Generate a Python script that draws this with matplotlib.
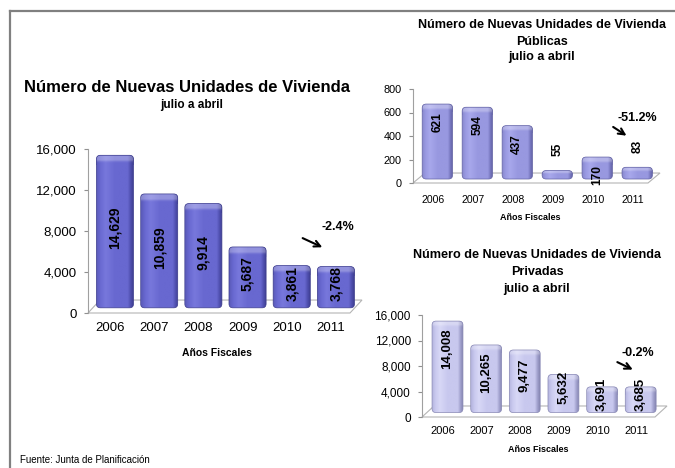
import numpy as np
import matplotlib
matplotlib.use("Agg")
import matplotlib.pyplot as plt
from matplotlib.patches import FancyBboxPatch, Polygon
from matplotlib.colors import LinearSegmentedColormap
from matplotlib.lines import Line2D

plt.rcParams["font.family"] = ["Liberation Sans", "DejaVu Sans"]

# data
years = ["2006", "2007", "2008", "2009", "2010", "2011"]
total = [14629, 10859, 9914, 5687, 3861, 3768]
publicas = [621, 594, 437, 55, 170, 83]
privadas = [14008, 10265, 9477, 5632, 3691, 3685]
cambio_total = "-2.4%"
cambio_publicas = "-51.2%"
cambio_privadas = "-0.2%"

W, H = 675, 468
fig = plt.figure(figsize=(W / 100, H / 100), dpi=100)

# bar colour sets: (left, highlight, base, dark, edge)
MAIN_COLS = ["#5a5ab8", "#7878dc", "#6868d0", "#4c4caa", "#3c3c8c"]
PUB_COLS = ["#8888cc", "#a8a8ec", "#9898e0", "#7474bc", "#6262a4"]
PRIV_COLS = ["#b4b4de", "#d8d8f6", "#c8c8ee", "#a0a0cc", "#8888b4"]


def px_rect(x0, y_top, x1, y_bot):
    return [x0 / W, 1 - y_bot / H, (x1 - x0) / W, (y_bot - y_top) / H]


def draw_panel(ax, values, ymax, step, xlim, depth, bw, shift, cols,
               tick_fs, year_fs, year_pad, label_fs, label_pos):
    ax.set_xlim(*xlim)
    ax.set_ylim(0, ymax)
    pos = ax.get_position()
    x_per_px = (xlim[1] - xlim[0]) / (pos.width * W)
    y_per_px = ymax / (pos.height * H)
    asp = y_per_px / x_per_px
    dz = depth * ymax

    # floor
    s = 12 * x_per_px
    floor = Polygon([(xlim[0], 0), (xlim[0] + s, dz), (xlim[1], dz), (xlim[1] - s, 0)],
                    closed=True, fc="white", ec="#b4b4b4", lw=0.8, zorder=1, clip_on=False)
    ax.add_patch(floor)

    body_cmap = LinearSegmentedColormap.from_list(
        "body", [(0, cols[0]), (0.1, cols[2]), (0.25, cols[1]), (0.5, cols[2]),
                 (0.84, cols[2]), (0.93, cols[3]), (1, cols[4])])
    body = body_cmap(np.linspace(0, 1, 64))[:, :3]
    # top face: body colours lightened towards the top
    t = np.linspace(0, 1, 24)
    fade = (np.clip((t - 0.15) / 0.35, 0, 1) ** 2 * 0.28)[:, None, None]
    cap_rgb = body[None, :, :] * (1 - fade) + fade

    for i, v in enumerate(values):
        x0 = i + shift - bw / 2
        y0 = 0.4 * dz
        y1 = v + 0.6 * dz
        h = y1 - y0
        r = min(4 * x_per_px, 0.49 * h / asp)
        outline = FancyBboxPatch((x0, y0), bw, h, boxstyle=f"round,pad=0,rounding_size={r}",
                                 mutation_aspect=asp, fc="none", ec=cols[4], lw=0.5, zorder=5)
        ax.add_patch(outline)
        img = ax.imshow(body[None, :, :], aspect="auto",
                        extent=(x0, x0 + bw, y0, y1), interpolation="bilinear", zorder=3)
        img.set_clip_path(outline)
        cap_h = min(0.75 * dz, 0.5 * h)
        cap = ax.imshow(cap_rgb, aspect="auto", origin="lower",
                        extent=(x0, x0 + bw, y1 - cap_h, y1),
                        interpolation="bilinear", zorder=4)
        cap.set_clip_path(outline)

        ly, va = label_pos(v, ymax)
        ax.text(i + shift, ly, f"{v:,}", rotation=90, ha="center", va=va,
                fontsize=label_fs, fontweight="bold", zorder=6)

    ax.set_xlim(*xlim)
    ax.set_ylim(0, ymax)
    ticks = np.arange(0, ymax + 1, step)
    ax.set_yticks(ticks)
    ax.set_yticklabels([f"{int(t):,}" for t in ticks])
    ax.set_xticks(np.arange(len(values)))
    ax.set_xticklabels(years)
    for sp in ["top", "right", "bottom"]:
        ax.spines[sp].set_visible(False)
    ax.spines["left"].set_color("#a0a0a0")
    ax.spines["left"].set_linewidth(0.8)
    ax.tick_params(axis="y", length=3, color="#909090", labelsize=tick_fs, pad=5)
    ax.tick_params(axis="x", length=0, labelsize=year_fs, pad=year_pad)
    ax.patch.set_alpha(0)


def arrow(ax, start, end, text, tpos, fs):
    ax.annotate("", xy=end, xytext=start,
                arrowprops=dict(arrowstyle="->", color="black", lw=1.5, mutation_scale=11),
                annotation_clip=False)
    ax.text(tpos[0], tpos[1], text, ha="center", va="center", fontsize=fs, fontweight="bold")


# ---- main panel ----
ax1 = fig.add_axes(px_rect(88, 149, 362, 313))
draw_panel(ax1, total, 16000, 4000, (-0.5, 5.70), 0.079, 0.84, 0.11, MAIN_COLS,
           9.5, 9.5, 6.5, 10, lambda v, m: (v / 2 + 0.06 * m, "center"))
arrow(ax1, (4.3, 7420), (4.86, 6300), cambio_total, (5.16, 8394), 9)

# ---- públicas ----
ax2 = fig.add_axes(px_rect(413, 89, 660, 183))
draw_panel(ax2, publicas, 800, 200, (-0.5, 5.68), 0.106, 0.76, 0.11, PUB_COLS,
           7.8, 7.6, 8.5, 8.6,
           lambda v, m: (v + 0.22 * m, "bottom") if v < 0.15 * m else (v - 0.025 * m, "top"))
arrow(ax2, (4.45, 490), (4.9, 390), cambio_publicas, (5.12, 553), 9)

# ---- privadas ----
ax3 = fig.add_axes(px_rect(422, 315, 667, 417))
draw_panel(ax3, privadas, 16000, 4000, (-0.54, 5.80), 0.108, 0.8, 0.12, PRIV_COLS,
           8.5, 8.0, 6.5, 9.5,
           lambda v, m: (max(v - 0.21 * m, v / 2 + 0.11 * m), "center"))
arrow(ax3, (4.45, 8800), (4.98, 7250), cambio_privadas, (5.05, 10040), 9)

# ---- titles and labels ----
def ftext(x, y, s, **kw):
    fig.text(x / W, 1 - y / H, s, ha="center", va="center", **kw)

ftext(187, 87, "Número de Nuevas Unidades de Vivienda", fontsize=12, fontweight="bold")
ftext(192, 105, "julio a abril", fontsize=8.5, fontweight="bold")
ftext(217, 353, "Años Fiscales", fontsize=7.5, fontweight="bold")

ftext(542, 25, "Número de Nuevas Unidades de Vivienda", fontsize=9.1, fontweight="bold")
ftext(542, 42, "Públicas", fontsize=9.1, fontweight="bold")
ftext(542, 57, "julio a abril", fontsize=9.1, fontweight="bold")
ftext(530, 217, "Años Fiscales", fontsize=6.5, fontweight="bold")

ftext(537, 255, "Número de Nuevas Unidades de Vivienda", fontsize=9.1, fontweight="bold")
ftext(537, 272, "Privadas", fontsize=9.1, fontweight="bold")
ftext(537, 289, "julio a abril", fontsize=9.1, fontweight="bold")
ftext(538, 450, "Años Fiscales", fontsize=6.5, fontweight="bold")

fig.text(20 / W, 1 - 460 / H, "Fuente: Junta de Planificación", ha="left", va="center", fontsize=7)

# frame lines (top and left)
fig.add_artist(Line2D([10 / W, 1], [1 - 11 / H, 1 - 11 / H], color="#808080", lw=1.6))
fig.add_artist(Line2D([10 / W, 10 / W], [0, 1 - 11 / H], color="#808080", lw=1.6))

fig.savefig("out.png", dpi=100)
